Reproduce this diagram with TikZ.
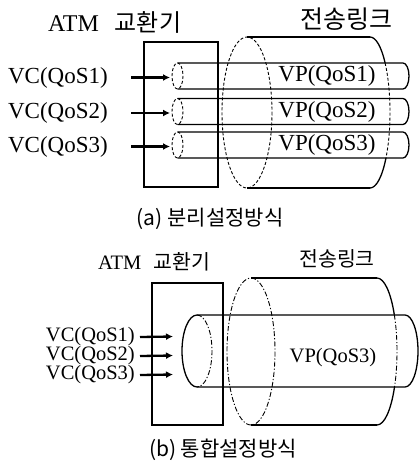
\documentclass[tikz,border=0pt]{standalone}
\usepackage{fontspec}
\setmainfont{Liberation Serif}
\newfontfamily\kr{Noto Sans CJK KR}
\usetikzlibrary{arrows.meta}
\begin{document}
\begin{tikzpicture}[x=1pt,y=-1pt,
  ln/.style={line width=1.3pt},
  dsh/.style={line width=0.9pt,dash pattern=on 3pt off 2pt},
  dshdot/.style={line width=0.9pt,dash pattern=on 5pt off 2pt on 1.2pt off 2pt},
  arr/.style={line width=2.3pt,-{Latex[length=7pt,width=7pt]}},
  lblA/.style={inner sep=0pt,font=\fontsize{23}{25}\selectfont},
  lblB/.style={inner sep=0pt,font=\fontsize{20.5}{21}\selectfont},
  ttlA/.style={inner sep=0pt,font=\fontsize{24}{26}\selectfont},
  ttlB/.style={inner sep=0pt,font=\fontsize{20.5}{22}\selectfont},
  captxt/.style={inner sep=0pt,font=\fontsize{21}{23}\selectfont\kr}]
\useasboundingbox (0,0) rectangle (419,462);

% ================= (a) =================
\node[ttlA,anchor=west] (ta1) at (48,22) {ATM\hspace{16pt}{\kr 교환기}};
\node[ttlA] (ta2) at (346,19) {\fontsize{25}{26}\selectfont\kr 전송링크};
\node[draw,ln,minimum width=74pt,minimum height=145pt,inner sep=0pt] (swA) at (181,114.5) {};

% big cylinder
\draw[ln] (247,37) -- (370,37);
\draw[ln] (247,188) -- (370,188);
\draw[dsh] (247,112.5) ellipse [x radius=25, y radius=75.5];
\draw[ln] (370,37) arc[start angle=-90, end angle=-41, x radius=20, y radius=75.5];
\draw[dsh] (370,112.5) ++(-41:20 and 75.5) arc[start angle=-41, end angle=37, x radius=20, y radius=75.5];
\draw[ln] (370,112.5) ++(37:20 and 75.5) arc[start angle=37, end angle=90, x radius=20, y radius=75.5];

% tubes
\foreach \yc/\i in {76/1,111.5/2,145/3}{
  \draw[dsh] (177.5,\yc) ellipse [x radius=5.5, y radius=13];
  \draw[ln] (177.5,\yc-13) -- (403,\yc-13) arc[start angle=-90, end angle=90, x radius=6, y radius=13] -- (177.5,\yc+13);
  \coordinate (tA\i) at (170,\yc+1.5);
  \node[lblA] (vpA\i) at (327,\yc) {VP(QoS\i)};
  \node[lblA,anchor=east] (vcA\i) at (108,\yc+1.5) {VC(QoS\i)};
  \draw[arr] ([xshift=23pt]vcA\i.east) -- (tA\i);
}
\node[captxt] (capA) at (210,219) {(a) 분리설정방식};

% ================= (b) =================
\node[ttlB] (tb1) at (154,262) {ATM\hspace{12pt}{\kr 교환기}};
\node[ttlB] (tb2) at (337,259) {\kr 전송링크};
\node[draw,ln,minimum width=71pt,minimum height=142pt,inner sep=0pt] (swB) at (187.5,354) {};

% big cylinder
\draw[ln] (251,278) -- (377,278);
\draw[ln] (251,425) -- (377,425);
\draw[dshdot] (251,351.5) ellipse [x radius=24, y radius=73.5];
\draw[ln] (377,278) arc[start angle=-90, end angle=-30, x radius=20, y radius=73.5];
\draw[dshdot] (377,351.5) ++(-30:20 and 73.5) arc[start angle=-30, end angle=29, x radius=20, y radius=73.5];
\draw[ln] (377,351.5) ++(29:20 and 73.5) arc[start angle=29, end angle=90, x radius=20, y radius=73.5];

% inner tube
\draw[ln] (197,387) arc[start angle=90, end angle=270, x radius=15, y radius=36];
\draw[dshdot] (197,315) arc[start angle=-90, end angle=90, x radius=15, y radius=36];
\draw[ln] (197,315) -- (405,315) arc[start angle=-90, end angle=90, x radius=13, y radius=36] -- (197,387);
\node[lblB] (vpB) at (333,358) {VP(QoS3)};

\foreach \yy/\i in {337/1,356/2,375/3}{
  \node[lblB,anchor=east] (vcB\i) at (135,\yy) {VC(QoS\i)};
  \coordinate (tB\i) at (173,\yy-0.5);
  \draw[arr] ([xshift=5pt]vcB\i.east) -- (tB\i);
}
\node[captxt] (capB) at (223,450) {(b) 통합설정방식};
\end{tikzpicture}
\end{document}
